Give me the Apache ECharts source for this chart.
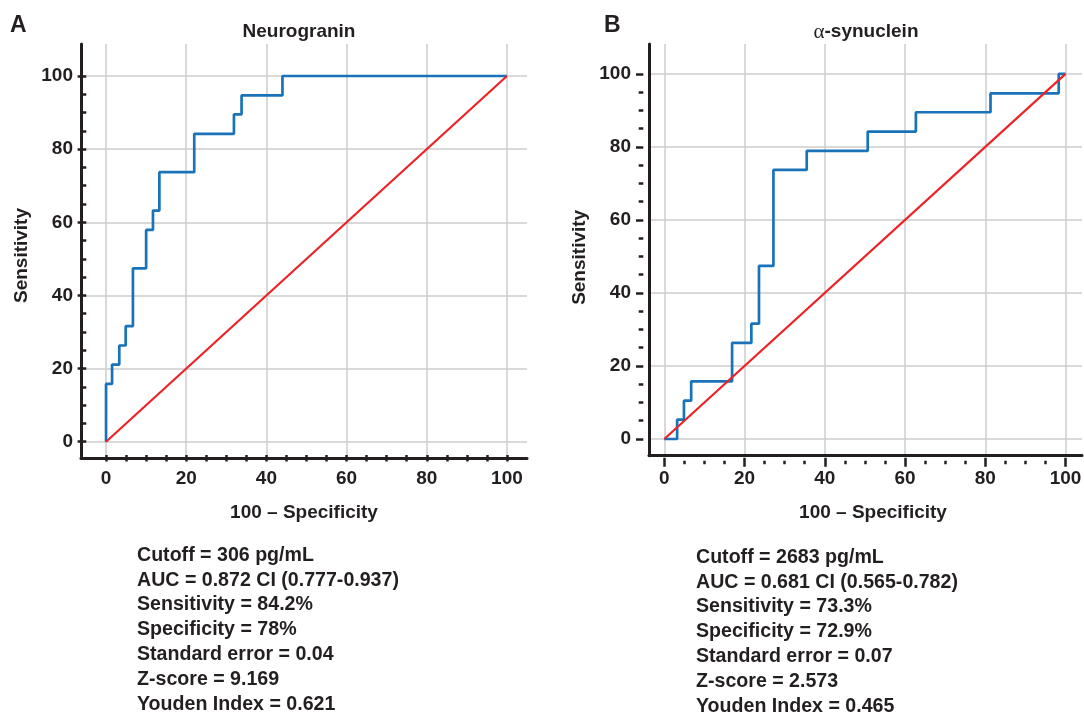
<!DOCTYPE html>
<html>
<head>
<meta charset="utf-8">
<script src="https://cdn.jsdelivr.net/npm/echarts@6/dist/echarts.min.js"></script>
<style>
html,body{margin:0;padding:0;background:#fff;}
#chart{width:1084px;height:713px;}
</style>
</head>
<body>
<div id="chart"></div>
<script>
// ---- Data ----
// Panel A: Neurogranin ROC operating points (100 - specificity, sensitivity)
const fprA = [0, 0, 1.5, 3.3, 4.9, 6.7, 10.0, 11.7, 13.3, 22.0, 31.9, 33.8, 44.0, 100];
const tprA = [0, 15.8, 21.1, 26.3, 31.6, 47.4, 57.9, 63.2, 73.7, 84.2, 89.5, 94.7, 100, 100];
// Panel B: alpha-synuclein ROC operating points
const fprB = [0, 3.2, 4.9, 6.7, 16.9, 21.7, 23.6, 27.2, 35.5, 50.7, 62.7, 81.3, 98.3, 100];
const tprB = [0, 5.3, 10.5, 15.8, 26.3, 31.6, 47.4, 73.7, 78.9, 84.2, 89.5, 94.7, 100, 100];
// Reference (chance) line
const refX = [0, 100];
const refY = [0, 100];
// Tick labels
const majorTicks = [0, 20, 40, 60, 80, 100];
const minorTicks = [0, 5, 10, 15, 20, 25, 30, 35, 40, 45, 50, 55, 60, 65, 70, 75, 80, 85, 90, 95, 100];
// Texts
const titleA = 'Neurogranin';
const titleB = '-synuclein';
const xName = '100 \u2013 Specificity';
const yName = 'Sensitivity';
const statsA = ['Cutoff = 306 pg/mL', 'AUC = 0.872 CI (0.777-0.937)', 'Sensitivity = 84.2%', 'Specificity = 78%', 'Standard error = 0.04', 'Z-score = 9.169', 'Youden Index = 0.621'];
const statsB = ['Cutoff = 2683 pg/mL', 'AUC = 0.681 CI (0.565-0.782)', 'Sensitivity = 73.3%', 'Specificity = 72.9%', 'Standard error = 0.07', 'Z-score = 2.573', 'Youden Index = 0.465'];

// ---- Build ----
const FONT = "'Liberation Sans', Arial, Helvetica, sans-serif";
const INK = '#231f20';
const BLUE = '#1a73b9';
const RED = '#ec2227';
const GRIDC = '#cdcdcd';

function staircase(xs, ys) {
  const pts = [[xs[0], ys[0]]];
  for (let i = 1; i < xs.length; i++) {
    pts.push([xs[i], ys[i - 1]]);
    pts.push([xs[i], ys[i]]);
  }
  return pts;
}
function pairs(xs, ys) { return xs.map((x, i) => [x, ys[i]]); }

const chart = echarts.init(document.getElementById('chart'), null, {renderer: 'canvas'});

const labelStyle = {color: INK, fontFamily: FONT, fontWeight: 'bold', fontSize: 19};

function mainX(gridIndex, min, max, margin, nameGap, namePad) {
  return {
    type: 'value', gridIndex, min, max, position: 'bottom',
    name: xName, nameLocation: 'middle', nameGap,
    nameTextStyle: Object.assign({}, labelStyle, {padding: namePad}),
    axisLine: {show: true, onZero: false, lineStyle: {color: INK, width: 3}},
    axisTick: {show: false, customValues: majorTicks},
    axisLabel: Object.assign({show: true, margin, customValues: majorTicks}, labelStyle),
    splitLine: {show: true, lineStyle: {color: GRIDC, width: 1.5}},
    minorTick: {show: false}, minorSplitLine: {show: false}
  };
}
function mainY(gridIndex, min, max, margin, nameGap, namePad) {
  return {
    type: 'value', gridIndex, min, max, position: 'left',
    name: yName, nameLocation: 'middle', nameGap, nameRotate: 90,
    nameTextStyle: Object.assign({}, labelStyle, {padding: namePad}),
    axisLine: {show: true, onZero: false, lineStyle: {color: INK, width: 3}},
    axisTick: {show: false, customValues: majorTicks},
    axisLabel: Object.assign({show: true, margin, customValues: majorTicks}, labelStyle),
    splitLine: {show: true, lineStyle: {color: GRIDC, width: 1.5}},
    minorTick: {show: false}, minorSplitLine: {show: false}
  };
}
function tickAxis(kind, gridIndex, min, max, values, offset, length) {
  return {
    type: 'value', gridIndex, min, max,
    position: kind === 'x' ? 'bottom' : 'left', offset,
    axisLine: {show: false, onZero: false},
    axisTick: {show: true, inside: false, length, customValues: values, lineStyle: {color: INK, width: 2.5}},
    axisLabel: {show: false, customValues: values},
    splitLine: {show: false}
  };
}

const axA = {xmin: -6.25, xmax: 105.0, ymin: -4.46, ymax: 108.75};
const axB = {xmin: -3.81, xmax: 104.1, ymin: -4.58, ymax: 108.2};

const option = {
  animation: false,
  backgroundColor: '#ffffff',
  grid: [
    {left: 81, right: 557, top: 44, bottom: 255, containLabel: false, outerBoundsMode: 'none'},
    {left: 649, right: 2, top: 44, bottom: 257.3, containLabel: false, outerBoundsMode: 'none'}
  ],
  xAxis: [
    mainX(0, axA.xmin, axA.xmax, 11, 45, [0, 0, 0, 0]),
    tickAxis('x', 0, axA.xmin, axA.xmax, minorTicks, -3, 6.5),
    mainX(1, axB.xmin, axB.xmax, 13.5, 48, [0, 0, 0, 15]),
    tickAxis('x', 1, axB.xmin, axB.xmax, majorTicks, 2, 9),
    tickAxis('x', 1, axB.xmin, axB.xmax, minorTicks, 5, 3.6)
  ],
  yAxis: [
    mainY(0, axA.ymin, axA.ymax, 8, 50, [0, 9, 0, 0]),
    tickAxis('y', 0, axA.ymin, axA.ymax, majorTicks, -5.3, 8.7),
    tickAxis('y', 0, axA.ymin, axA.ymax, minorTicks, -5.3, 5.3),
    mainY(1, axB.ymin, axB.ymax, 18, 60, [0, 15, 0, 0]),
    tickAxis('y', 1, axB.ymin, axB.ymax, majorTicks, 5.7, 7.3),
    tickAxis('y', 1, axB.ymin, axB.ymax, minorTicks, 5.7, 4.6)
  ],
  series: [
    {type: 'line', xAxisIndex: 0, yAxisIndex: 0, data: staircase(fprA, tprA), showSymbol: false, symbol: 'none',
     lineStyle: {color: BLUE, width: 2.7}, z: 3},
    {type: 'line', xAxisIndex: 0, yAxisIndex: 0, data: pairs(refX, refY), showSymbol: false, symbol: 'none',
     lineStyle: {color: RED, width: 2.2}, z: 4},
    {type: 'line', xAxisIndex: 2, yAxisIndex: 3, data: staircase(fprB, tprB), showSymbol: false, symbol: 'none',
     lineStyle: {color: BLUE, width: 2.7}, z: 3},
    {type: 'line', xAxisIndex: 2, yAxisIndex: 3, data: pairs(refX, refY), showSymbol: false, symbol: 'none',
     lineStyle: {color: RED, width: 2.2}, z: 4}
  ],
  graphic: [
    {type: 'text', x: 10, y: 26, style: {text: 'A', font: 'bold 23px ' + FONT, fill: INK, verticalAlign: 'middle', align: 'left'}},
    {type: 'text', x: 604, y: 26, style: {text: 'B', font: 'bold 23px ' + FONT, fill: INK, verticalAlign: 'middle', align: 'left'}},
    {type: 'text', x: 299, y: 32, style: {text: titleA, font: 'bold 19px ' + FONT, fill: INK, verticalAlign: 'middle', align: 'center'}},
    {type: 'text', x: 866, y: 32, style: {
      text: '{a|\u03b1}{b|' + titleB + '}', fill: INK, verticalAlign: 'middle', align: 'center',
      rich: {
        a: {fontFamily: "'Liberation Serif', 'DejaVu Serif', serif", fontSize: 21, fontWeight: 'normal', fill: INK},
        b: {fontFamily: FONT, fontSize: 19, fontWeight: 'bold', fill: INK}
      }}},
    {type: 'text', x: 137, y: 543, style: {text: statsA.join('\n'), font: 'bold 19.6px ' + FONT, lineHeight: 24.8, fill: INK, verticalAlign: 'top', align: 'left'}},
    {type: 'text', x: 696, y: 545, style: {text: statsB.join('\n'), font: 'bold 19.6px ' + FONT, lineHeight: 24.8, fill: INK, verticalAlign: 'top', align: 'left'}}
  ]
};
chart.setOption(option);
</script>
</body>
</html>
